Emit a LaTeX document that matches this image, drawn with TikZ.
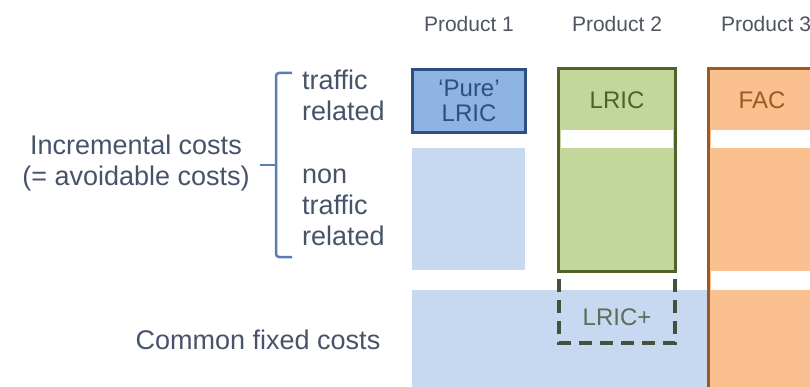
\documentclass[tikz,border=0pt]{standalone}
\usepackage{fontspec}
\setmainfont{Liberation Sans}
\definecolor{midblue}{HTML}{8DB4E2}
\definecolor{navy}{HTML}{2F4F7F}
\definecolor{lightblue}{HTML}{C6D9F0}
\definecolor{greenfill}{HTML}{C4D79B}
\definecolor{greendark}{HTML}{4F6228}
\definecolor{orangefill}{HTML}{FAC090}
\definecolor{brown}{HTML}{9A5A22}
\definecolor{labelgray}{HTML}{47536A}
\definecolor{prodgray}{HTML}{4F555E}
\definecolor{bracketblue}{HTML}{5B7DB3}
\definecolor{dashgray}{HTML}{43523A}
\begin{document}
\begin{tikzpicture}[x=1pt,y=-1pt,
  prodlabel/.style={text=prodgray,font=\fontsize{21}{23}\selectfont},
  sidelabel/.style={text=labelgray,font=\fontsize{27}{31}\selectfont,inner sep=0pt},
  boxlabel/.style={font=\fontsize{24}{25}\selectfont,inner sep=0pt},
  block/.style={inner sep=0pt,outer sep=0pt,anchor=north west},
  whiteband/.style={fill=white,draw=none}
]
\useasboundingbox (0,0) rectangle (810,387);
\clip (0,0) rectangle (810,387);

% product headers
\node[prodlabel] (h1) at (469,24) {Product 1};
\node[prodlabel] (h2) at (617,24) {Product 2};
\node[prodlabel] (h3) at (766,24) {Product 3};

% common fixed costs band
\fill[lightblue] (412,290) rectangle (708,390);
% product 1 lower
\fill[lightblue] (412,148) rectangle (525,270);

% product 1 pure LRIC
\node[block,fill=midblue,draw=navy,line width=3.5pt,minimum width=113pt,minimum height=63pt] (p1) at (412.5,69.5) {};
\node[boxlabel,text=navy,align=center] (p1t) at (p1.center) {‘Pure’\\LRIC};

% product 2 LRIC
\node[block,fill=greenfill,draw=greendark,line width=3.5pt,minimum width=117pt,minimum height=203pt] (p2) at (558.5,68.5) {};
\fill[whiteband] (561,130) rectangle (673,148);
\node[boxlabel,text=greendark] (p2t) at (617,100) {LRIC};

% LRIC+ dashed
\coordinate (d1) at (559,279);
\coordinate (d2) at (559,343);
\coordinate (d3) at (675,343);
\coordinate (d4) at (675,279);
\draw[dashgray,line width=3.5pt,dash pattern=on 13pt off 8pt] (d1) -- (d2) -- (d3) -- (d4);
\node[boxlabel,text=dashgray!85!white] (p2p) at (617,317) {LRIC+};

% product 3 FAC
\node[block,fill=orangefill,draw=brown,line width=3pt,minimum width=130pt,minimum height=330pt] (p3) at (708.5,68.5) {};
\fill[whiteband] (710.5,130) rectangle (830,148);
\fill[whiteband] (710.5,271) rectangle (830,290);
\node[boxlabel,text=brown] (p3t) at (762,100) {FAC};

% left labels
\node[sidelabel,align=center] (inc) at (136,163) {Incremental costs\\(= avoidable costs)};
\node[sidelabel,align=left,anchor=north west] (tr) at (302,70) {traffic\\related};
\node[sidelabel,align=left,anchor=north west] (ntr) at (302,169) {non\\traffic\\related};
\node[sidelabel] (cfc) at (258,340) {Common fixed costs};

% bracket
\coordinate (bt) at (292,73);
\coordinate (bb) at (292,257);
\coordinate (bm) at (260,165);
\draw[bracketblue,line width=2.5pt,rounded corners=3pt] (bt) -- (276,73) -- (276,257) -- (bb);
\draw[bracketblue,line width=2.5pt] (bm) -- (276,165);
\end{tikzpicture}
\end{document}
